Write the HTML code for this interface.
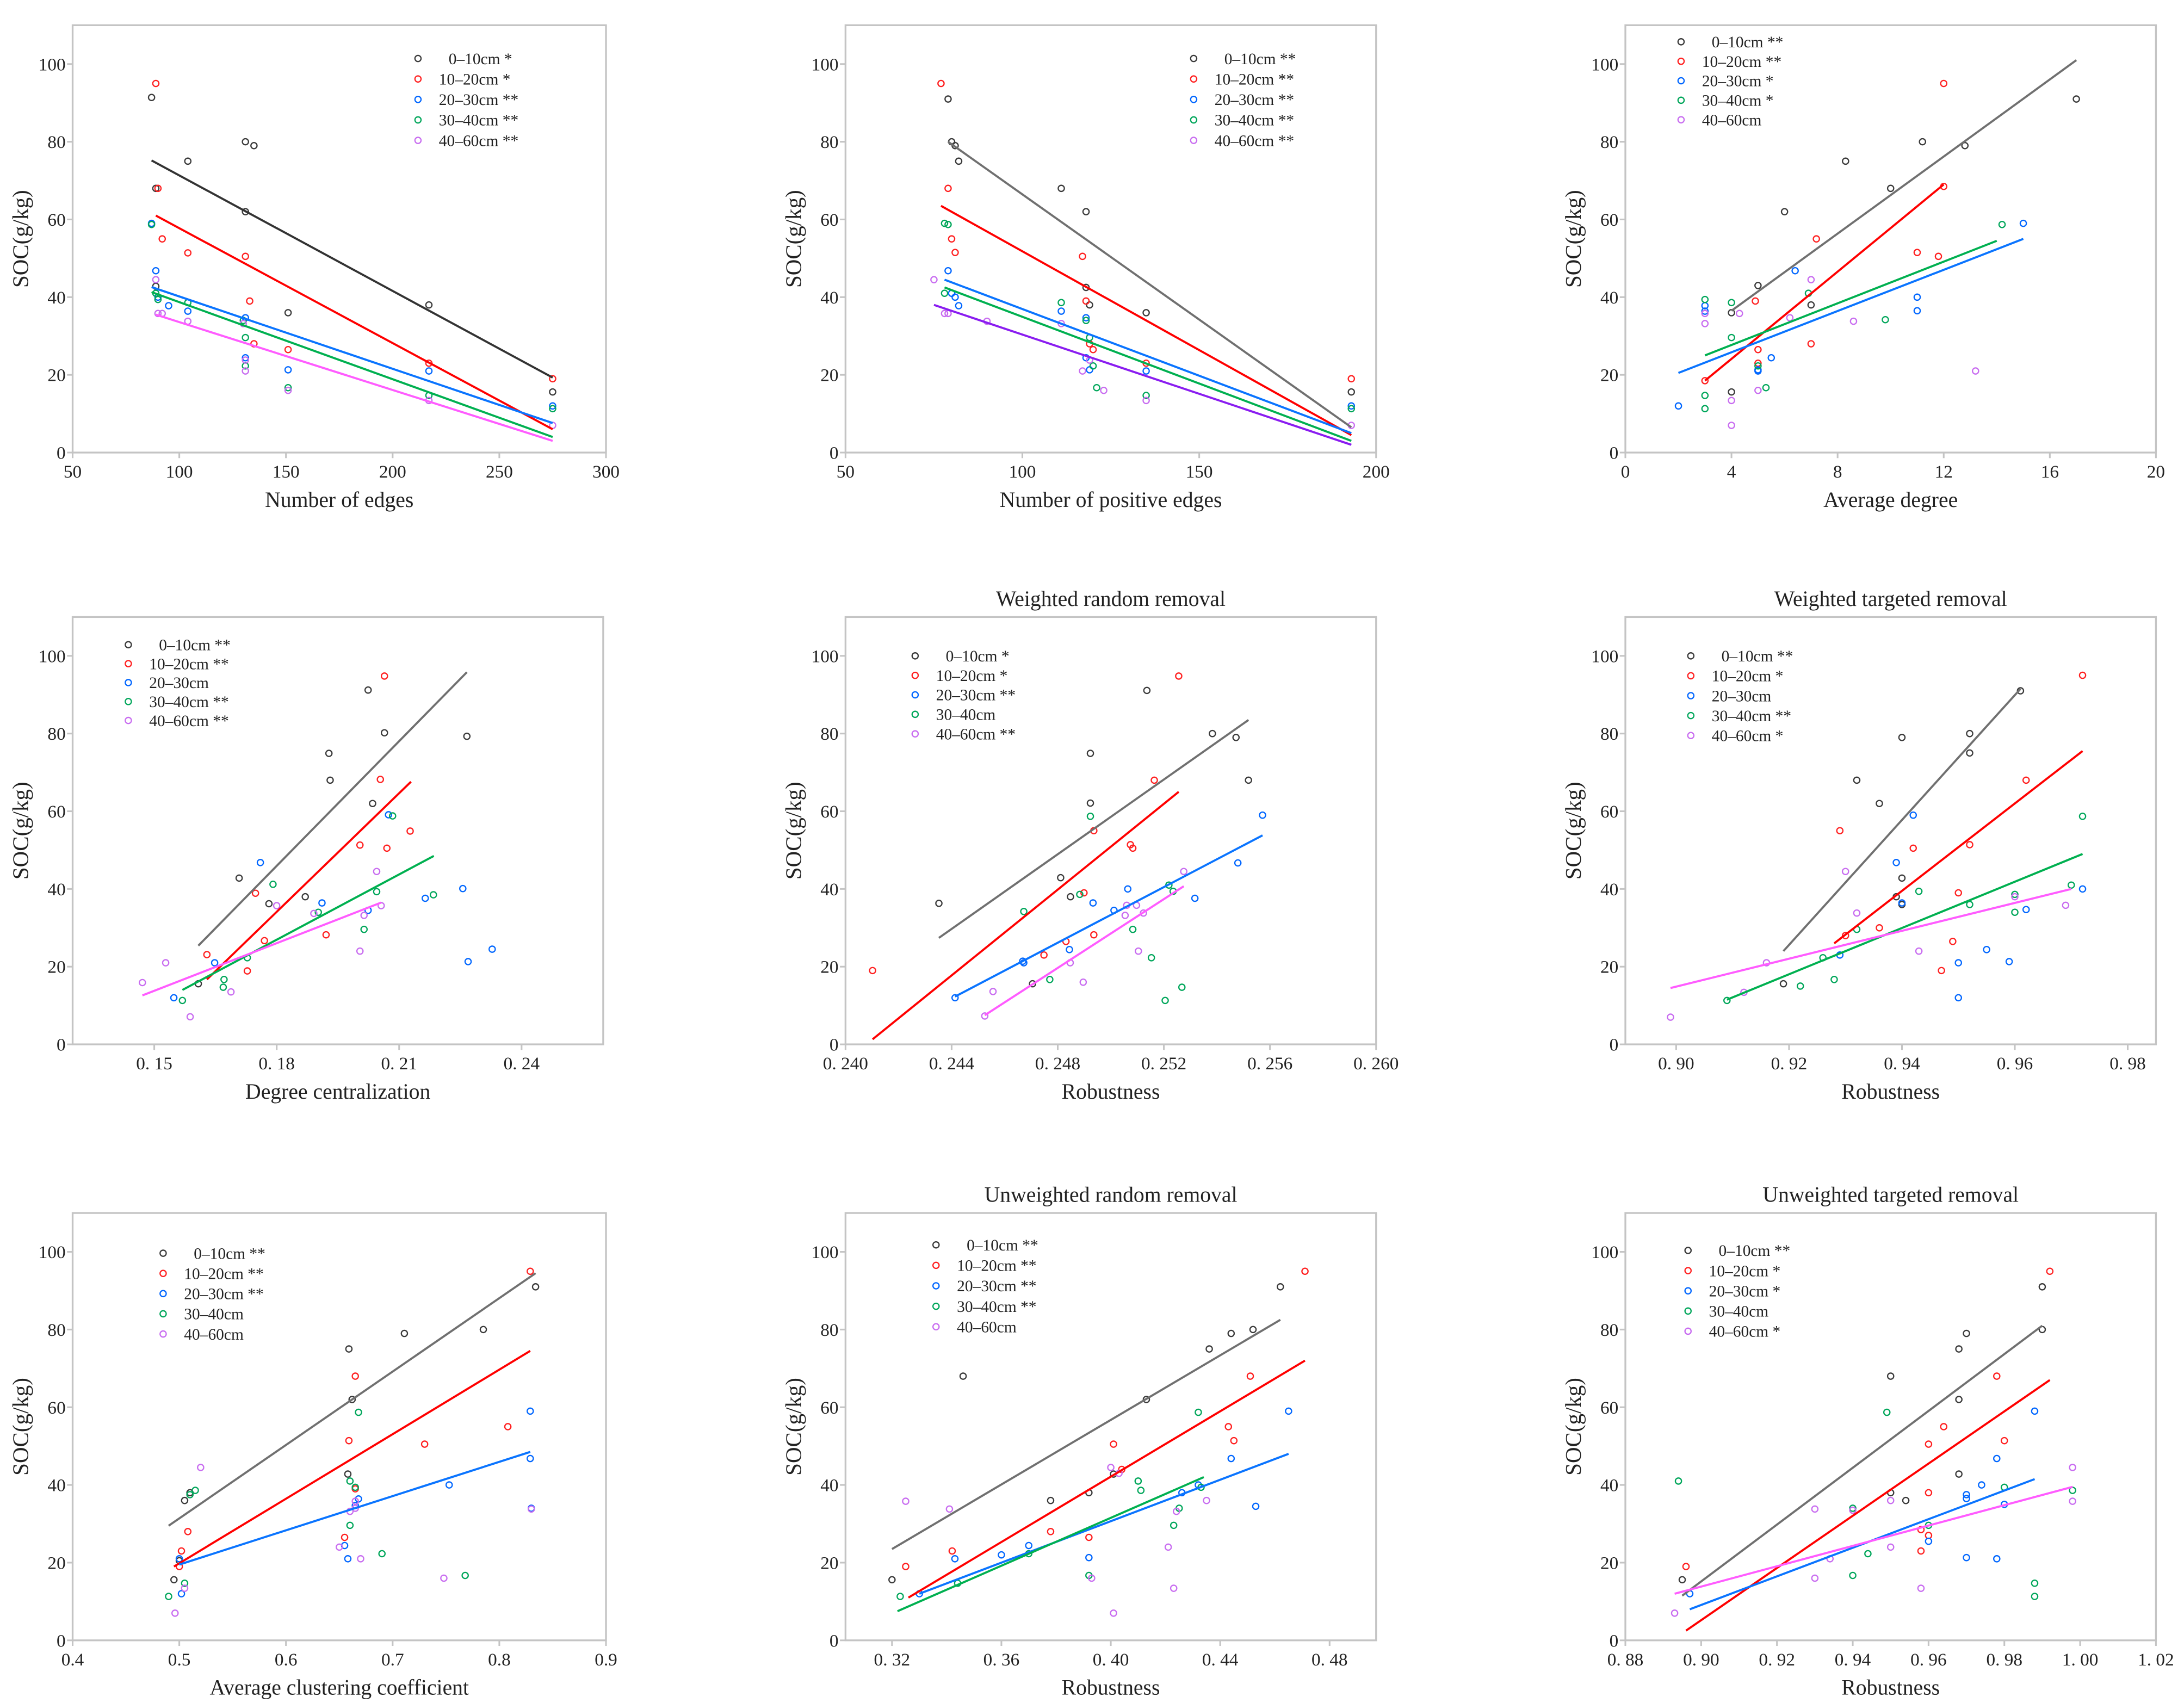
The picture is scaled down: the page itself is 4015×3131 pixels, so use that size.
<!DOCTYPE html>
<html><head><meta charset="utf-8"><style>
html,body{margin:0;padding:0;background:#fff;}
svg{display:block;}
text{font-family:"Liberation Serif",serif;fill:#222;}
</style></head><body>
<svg id="chart" xmlns="http://www.w3.org/2000/svg" width="4015" height="3131" viewBox="0 0 1568 1223"></svg>
<script>
// ===== Panel data =====
// P1: Number of edges
const p1_black_x=[87,89,104,131,135,131,151,217,275,89];
const p1_black_y=[91.4,68,75,80,79,62,36,38,15.6,42.8];
const p1_red_x=[89,90,92,104,131,133,135,151,217,275];
const p1_red_y=[95,68,55,51.4,50.5,39,28,26.5,23,19];
const p1_blue_x=[87,89,95,104,131,131,151,217,275,90];
const p1_blue_y=[59,46.8,37.8,36.4,34.7,24.4,21.3,21,12,40];
const p1_green_x=[87,89,90,104,130,131,131,151,217,275];
const p1_green_y=[58.7,41,39.4,38.6,34,29.6,22.3,16.7,14.7,11.3];
const p1_pink_x=[89,90,92,104,130,131,131,151,217,275];
const p1_pink_y=[44.5,35.8,35.8,33.8,33.2,23.8,21,16,13.4,7];
const p1_fit_black=[87,75.2,275,19.3];
const p1_fit_red=[89,61,275,6];
const p1_fit_blue=[87,42.6,275,7.6];
const p1_fit_green=[87,41.3,275,4];
const p1_fit_pink=[89,35.5,275,3];
// P2: Number of positive edges
const p2_black_x=[79,80,81,82,111,118,119,118,135,193];
const p2_black_y=[91,80,79,75,68,62,38,42.5,36,15.6];
const p2_red_x=[77,79,80,81,117,118,119,120,135,193];
const p2_red_y=[95,68,55,51.5,50.5,39,28,26.5,23,19];
const p2_blue_x=[79,81,82,111,118,118,119,135,193,80];
const p2_blue_y=[46.8,40,37.8,36.4,34.7,24.4,21.3,21,12,41];
const p2_green_x=[78,79,78,111,118,119,121,135,193,120];
const p2_green_y=[59,58.7,41,38.6,34,29.6,16.7,14.7,11.3,22.3];
const p2_pink_x=[75,78,79,90,111,119,123,135,193,117];
const p2_pink_y=[44.5,35.8,35.8,33.8,33.2,23.8,16,13.4,7,21];
const p2_fit_black=[79,80,193,6.5];
const p2_fit_red=[77,63.5,193,4.5];
const p2_fit_blue=[78,44.5,193,5];
const p2_fit_green=[78,42.5,193,3];
const p2_fit_pink=[75,38,193,2];
// P3: Average degree
const p3_black_x=[17,11.2,12.8,8.3,10,6,5,7,4,4];
const p3_black_y=[91,80,79,75,68,62,43,38,36,15.6];
const p3_red_x=[12,12,11.8,11,7.2,4.9,7,5,3,5];
const p3_red_y=[95,68.5,50.5,51.5,55,39,28,26.5,18.5,23];
const p3_blue_x=[15,6.4,11,3,3,11,5,5,5.5,2];
const p3_blue_y=[59,46.8,40,37.8,36.4,36.5,21.3,21,24.4,12];
const p3_green_x=[14.2,3,4,4,3,3,5.3,9.8,5,6.9];
const p3_green_y=[58.7,39.4,38.6,29.6,14.7,11.3,16.7,34.2,22.3,41];
const p3_pink_x=[7,3,3,4.3,8.6,6.2,4,4,13.2,5];
const p3_pink_y=[44.5,35.8,33.2,35.8,33.8,34.7,13.4,7,21,16];
const p3_fit_black=[4,36.5,17,101];
const p3_fit_red=[3,18.5,12,69];
const p3_fit_blue=[2,20.5,15,55];
const p3_fit_green=[3,25,14,54.5];
// P4: Degree centralization
const p4_black_x=[0.2024,0.2064,0.2266,0.1928,0.1931,0.2035,0.1708,0.1781,0.187,0.1608];
const p4_black_y=[91.2,80.2,79.3,74.9,68,62,42.8,36.2,38,15.6];
const p4_red_x=[0.2064,0.2054,0.2004,0.207,0.2127,0.1748,0.177,0.1921,0.1728,0.1629];
const p4_red_y=[94.8,68.2,51.3,50.5,54.9,38.9,26.7,28.2,18.9,23.1];
const p4_blue_x=[0.2074,0.176,0.2256,0.2164,0.1911,0.1648,0.2269,0.2328,0.1548,0.2024];
const p4_blue_y=[59.1,46.8,40.1,37.6,36.4,21,21.3,24.5,12,34.5];
const p4_green_x=[0.2084,0.1791,0.2045,0.2184,0.1902,0.2014,0.1671,0.1669,0.1569,0.1728];
const p4_green_y=[58.8,41.2,39.3,38.5,34,29.6,16.7,14.7,11.3,22.3];
const p4_pink_x=[0.2045,0.2056,0.18,0.1891,0.2014,0.2004,0.1688,0.1528,0.1471,0.1588];
const p4_pink_y=[44.5,35.7,35.7,33.7,33.2,24,13.5,21,15.9,7.1];
const p4_fit_black=[0.1608,25.4,0.2266,95.8];
const p4_fit_red=[0.1629,16.7,0.2129,67.6];
const p4_fit_green=[0.1569,14,0.2185,48.5];
const p4_fit_pink=[0.1471,12.6,0.2056,36.5];
// P5: Weighted random removal
const p5_black_x=[0.24352,0.24705,0.24811,0.24848,0.24923,0.24923,0.25136,0.25383,0.25472,0.25519];
const p5_black_y=[36.3,15.6,42.9,38,62.1,74.9,91.1,80,79,68];
const p5_red_x=[0.24102,0.24748,0.24831,0.24899,0.24936,0.24936,0.25074,0.25083,0.25164,0.25256];
const p5_red_y=[19,23,26.5,39,55,28.2,51.4,50.5,68,94.8];
const p5_blue_x=[0.24413,0.24668,0.24672,0.24844,0.24933,0.25012,0.25064,0.25317,0.25479,0.25572];
const p5_blue_y=[12,21.4,21,24.4,36.4,34.5,40,37.6,46.7,59];
const p5_green_x=[0.24672,0.2477,0.24883,0.24923,0.25083,0.25153,0.25205,0.25219,0.25235,0.25268];
const p5_green_y=[34.2,16.7,38.6,58.7,29.6,22.3,11.3,41,39.4,14.7];
const p5_pink_x=[0.24525,0.24556,0.24847,0.24896,0.25054,0.2506,0.25097,0.25104,0.25123,0.25275];
const p5_pink_y=[7.3,13.6,21,16,33.2,35.8,35.8,24,33.8,44.5];
const p5_fit_black=[0.24352,27.4,0.25519,83.5];
const p5_fit_red=[0.24102,1.3,0.25256,65];
const p5_fit_blue=[0.24413,12.3,0.25572,53.8];
const p5_fit_pink=[0.24525,7.5,0.25275,40.7];
// P6: Weighted targeted removal
const p6_black_x=[0.961,0.952,0.940,0.952,0.932,0.936,0.940,0.939,0.940,0.919];
const p6_black_y=[91,80,79,75,68,62,42.8,38,36,15.6];
const p6_red_x=[0.972,0.962,0.952,0.942,0.929,0.950,0.930,0.949,0.947,0.936];
const p6_red_y=[95,68,51.4,50.5,55,39,28,26.5,19,30];
const p6_blue_x=[0.942,0.939,0.972,0.962,0.955,0.959,0.950,0.950,0.929,0.940];
const p6_blue_y=[59,46.8,40,34.7,24.4,21.3,21,12,23,36.4];
const p6_green_x=[0.972,0.970,0.943,0.960,0.960,0.952,0.932,0.926,0.922,0.909,0.928];
const p6_green_y=[58.7,41,39.4,38.6,34,36,29.6,22.3,15,11.3,16.7];
const p6_pink_x=[0.930,0.969,0.932,0.943,0.916,0.912,0.899,0.960];
const p6_pink_y=[44.5,35.8,33.8,24,21,13.4,7,38];
const p6_fit_black=[0.919,24,0.961,91.5];
const p6_fit_red=[0.928,26,0.972,75.5];
const p6_fit_green=[0.909,11.5,0.972,49];
const p6_fit_pink=[0.899,14.5,0.970,40];
// P7: Average clustering coefficient
const p7_black_x=[0.834,0.785,0.711,0.659,0.662,0.658,0.505,0.51,0.495,0.50];
const p7_black_y=[91,80,79,75,62,42.8,36,38,15.6,20.5];
const p7_red_x=[0.829,0.665,0.659,0.73,0.808,0.508,0.50,0.502,0.665,0.655];
const p7_red_y=[95,68,51.4,50.5,55,28,19,23,39,26.5];
const p7_blue_x=[0.829,0.829,0.753,0.668,0.655,0.658,0.502,0.50,0.665,0.83];
const p7_blue_y=[59,46.8,40,36.4,24.4,21,12,21,34.7,34];
const p7_green_x=[0.668,0.66,0.665,0.515,0.51,0.66,0.69,0.768,0.505,0.49];
const p7_green_y=[58.7,41,39.4,38.6,37.5,29.6,22.3,16.7,14.7,11.3];
const p7_pink_x=[0.52,0.665,0.66,0.83,0.67,0.748,0.496,0.505,0.65,0.665];
const p7_pink_y=[44.5,35.8,33.2,33.8,21,16,7,13.4,24,34];
const p7_fit_black=[0.49,29.5,0.834,94.5];
const p7_fit_red=[0.495,19,0.829,74.5];
const p7_fit_blue=[0.50,19.5,0.829,48.5];
// P8: Unweighted random removal
const p8_black_x=[0.462,0.452,0.444,0.436,0.346,0.413,0.401,0.378,0.392,0.32];
const p8_black_y=[91,80,79,75,68,62,42.8,36,38,15.6];
const p8_red_x=[0.471,0.451,0.401,0.443,0.445,0.342,0.392,0.378,0.325,0.404];
const p8_red_y=[95,68,50.5,55,51.4,23,26.5,28,19,44];
const p8_blue_x=[0.465,0.444,0.432,0.426,0.37,0.36,0.392,0.453,0.33,0.343];
const p8_blue_y=[59,46.8,40,38,24.4,22,21.3,34.5,12,21];
const p8_green_x=[0.432,0.41,0.433,0.411,0.425,0.423,0.37,0.344,0.323,0.392];
const p8_green_y=[58.7,41,39.4,38.6,34,29.6,22.3,14.7,11.3,16.7];
const p8_pink_x=[0.325,0.341,0.40,0.424,0.421,0.393,0.423,0.401,0.435,0.403];
const p8_pink_y=[35.8,33.8,44.5,33.2,24,16,13.4,7,36,43];
const p8_fit_black=[0.32,23.5,0.462,82.5];
const p8_fit_red=[0.326,11,0.471,72];
const p8_fit_blue=[0.33,12,0.465,48];
const p8_fit_green=[0.322,7.5,0.434,42];
// P9: Unweighted targeted removal
const p9_black_x=[0.990,0.990,0.970,0.968,0.950,0.968,0.968,0.954,0.950,0.895];
const p9_black_y=[91,80,79,75,68,62,42.8,36,38,15.6];
const p9_red_x=[0.992,0.978,0.980,0.960,0.964,0.960,0.958,0.960,0.896,0.958];
const p9_red_y=[95,68,51.4,50.5,55,38,23,27,19,28.5];
const p9_blue_x=[0.988,0.978,0.974,0.970,0.980,0.970,0.978,0.960,0.897,0.970];
const p9_blue_y=[59,46.8,40,37.5,35,21.3,21,25.5,12,36.5];
const p9_green_x=[0.894,0.949,0.980,0.998,0.940,0.944,0.940,0.988,0.988,0.960];
const p9_green_y=[41,58.7,39.4,38.6,34,22.3,16.7,14.7,11.3,29.6];
const p9_pink_x=[0.998,0.998,0.930,0.940,0.950,0.930,0.958,0.893,0.934,0.950];
const p9_pink_y=[44.5,35.8,33.8,33.5,24,16,13.4,7,21,36];
const p9_fit_black=[0.895,11.5,0.990,81];
const p9_fit_red=[0.896,2.5,0.992,67];
const p9_fit_blue=[0.897,8,0.988,41.5];
const p9_fit_pink=[0.893,12,0.998,39.5];

// ticks & labels
const p1_xticks=[50,100,150,200,250,300];
const p2_xticks=[50,100,150,200];
const p3_xticks=[0,4,8,12,16,20];
const p4_xticks=[0.15,0.18,0.21,0.24];
const p5_xticks=[0.240,0.244,0.248,0.252,0.256,0.260];
const p6_xticks=[0.90,0.92,0.94,0.96,0.98];
const p7_xticks=[0.4,0.5,0.6,0.7,0.8,0.9];
const p8_xticks=[0.32,0.36,0.40,0.44,0.48];
const p9_xticks=[0.88,0.90,0.92,0.94,0.96,0.98,1.00,1.02];
const yticks=[0,20,40,60,80,100];
const p1_legend=["0–10cm *","10–20cm *","20–30cm **","30–40cm **","40–60cm **"];
const p2_legend=["0–10cm **","10–20cm **","20–30cm **","30–40cm **","40–60cm **"];
const p3_legend=["0–10cm   **","10–20cm **","20–30cm *","30–40cm *","40–60cm"];
const p4_legend=["0–10cm **","10–20cm **","20–30cm","30–40cm **","40–60cm **"];
const p5_legend=["0–10cm *","10–20cm *","20–30cm **","30–40cm","40–60cm **"];
const p6_legend=["0–10cm **","10–20cm *","20–30cm","30–40cm **","40–60cm *"];
const p7_legend=["0–10cm  **","10–20cm **","20–30cm **","30–40cm","40–60cm"];
const p8_legend=["0–10cm **","10–20cm **","20–30cm **","30–40cm **","40–60cm"];
const p9_legend=["0–10cm **","10–20cm *","20–30cm *","30–40cm","40–60cm *"];

const NS="http://www.w3.org/2000/svg";
const svg=document.getElementById('chart');
function mk(tag,attrs,parent){const e=document.createElementNS(NS,tag);for(const k in attrs)e.setAttribute(k,attrs[k]);(parent||svg).appendChild(e);return e;}
const PT={black:'#3a3a3a',red:'#ff2020',blue:'#0066ff',green:'#00a65a',pink:'#c86cf0'};
const series=['black','red','blue','green','pink'];

function panel(o){
  const g=mk('g',{});
  
  
  const sx=v=>o.x0+(v-o.d0)/(o.d1-o.d0)*(o.x1-o.x0);
  const sy=v=>o.yb-v*2.79;
  const top=sy(110);
  const frame=mk('rect',{x:o.x0,y:top,width:o.x1-o.x0,height:o.yb-top,fill:'none',stroke:'#c4c4c4','stroke-width':1.3},g);
  
  
  yticks.forEach(t=>{
    mk('line',{x1:o.x0-4,x2:o.x0,y1:sy(t),y2:sy(t),stroke:'#c4c4c4','stroke-width':1.2},g);
    const tx=mk('text',{x:o.x0-5,y:sy(t)+4.5,'text-anchor':'end','font-size':13},g);
    tx.textContent=t;
    
    
  });
  o.xt.forEach(t=>{
    const X=sx(t);
    mk('line',{x1:X,x2:X,y1:o.yb,y2:o.yb+4,stroke:'#c4c4c4','stroke-width':1.2},g);
    const tx=mk('text',{x:X,y:o.yb+18,'text-anchor':'middle','font-size':13},g);
    tx.textContent=o.fmt(t);
    
    
  });
  const xl=mk('text',{x:(o.x0+o.x1)/2,y:o.yb+39,'text-anchor':'middle','font-size':15.5},g);
  xl.textContent=o.xlabel;
  
  
  const yl=mk('text',{x:0,y:0,'text-anchor':'middle','font-size':16,transform:`translate(${o.x0-32},${sy(55)}) rotate(-90)`},g);
  yl.textContent='SOC(g/kg)';
  
  
  if(o.title){
    const t=mk('text',{x:(o.x0+o.x1)/2,y:top-8,'text-anchor':'middle','font-size':15.5},g);
    t.textContent=o.title;
    
    
  }
  series.forEach(s=>{
    const xs=o.data[s][0], ys=o.data[s][1];
    xs.forEach((v,i)=>{
      const c=mk('circle',{cx:sx(v),cy:sy(ys[i]),r:2.2,fill:'none',stroke:PT[s],'stroke-width':0.9},g);
      
      
    });
  });
  series.forEach(s=>{
    const f=o.fits[s]; if(!f) return;
    const l=mk('line',{x1:sx(f[0]),y1:sy(f[1]),x2:sx(f[2]),y2:sy(f[3]),stroke:o.lc[s],'stroke-width':1.5},g);
    
    
  });
  o.legend.forEach((lab,i)=>{
    const y=o.ly+i*o.ls;
    const c=mk('circle',{cx:o.lx,cy:y,r:2.2,fill:'none',stroke:PT[series[i]],'stroke-width':0.9},g);
    
    
    const t=mk('text',{x:o.lx+(i==0?22:15),y:y+4,'font-size':11.5,'xml:space':'preserve'},g);
    t.textContent=lab;
    
    
  });
}
const plain=t=>String(t);
const sp=d=>t=>t.toFixed(d).replace('.','. ');
const LC={black:'#707070',red:'#ff0000',blue:'#0a74ff',green:'#00b050',pink:'#ff5cff'};
const LC1=Object.assign({},LC,{black:'#333333'});
const LC2=Object.assign({},LC,{pink:'#8a1cf0'});
function D(p){const r={};series.forEach(s=>{r[s]=[eval(p+'_'+s+'_x'),eval(p+'_'+s+'_y')];});return r;}
function F(p){const r={};series.forEach(s=>{try{r[s]=eval(p+'_fit_'+s);}catch(e){r[s]=null;}});return r;}

panel({name:'panel-number-of-edges',x0:52,x1:435,d0:50,d1:300,yb:325,xt:p1_xticks,fmt:plain,xlabel:'Number of edges',data:D('p1'),fits:F('p1'),lc:LC1,legend:p1_legend,lx:300,ly:42,ls:14.7});
panel({name:'panel-positive-edges',x0:607,x1:988,d0:50,d1:200,yb:325,xt:p2_xticks,fmt:plain,xlabel:'Number of positive edges',data:D('p2'),fits:F('p2'),lc:LC2,legend:p2_legend,lx:857,ly:42,ls:14.7});
panel({name:'panel-average-degree',x0:1167,x1:1548,d0:0,d1:20,yb:325,xt:p3_xticks,fmt:plain,xlabel:'Average degree',data:D('p3'),fits:F('p3'),lc:LC,legend:p3_legend,lx:1207,ly:30,ls:14});
panel({name:'panel-degree-centralization',x0:52,x1:433,d0:0.13,d1:0.26,yb:750,xt:p4_xticks,fmt:sp(2),xlabel:'Degree centralization',data:D('p4'),fits:F('p4'),lc:LC,legend:p4_legend,lx:92,ly:463,ls:13.6});
panel({name:'panel-weighted-random',x0:607,x1:988,d0:0.240,d1:0.260,yb:750,xt:p5_xticks,fmt:sp(3),xlabel:'Robustness',title:'Weighted random removal',data:D('p5'),fits:F('p5'),lc:LC,legend:p5_legend,lx:657,ly:471,ls:14});
panel({name:'panel-weighted-targeted',x0:1167,x1:1548,d0:0.891,d1:0.985,yb:750,xt:p6_xticks,fmt:sp(2),xlabel:'Robustness',title:'Weighted targeted removal',data:D('p6'),fits:F('p6'),lc:LC,legend:p6_legend,lx:1214,ly:471,ls:14.3});
panel({name:'panel-clustering-coefficient',x0:52,x1:435,d0:0.4,d1:0.9,yb:1178,xt:p7_xticks,fmt:t=>t.toFixed(1),xlabel:'Average clustering coefficient',data:D('p7'),fits:F('p7'),lc:LC,legend:p7_legend,lx:117,ly:900,ls:14.5});
panel({name:'panel-unweighted-random',x0:607,x1:988,d0:0.303,d1:0.497,yb:1178,xt:p8_xticks,fmt:sp(2),xlabel:'Robustness',title:'Unweighted random removal',data:D('p8'),fits:F('p8'),lc:LC,legend:p8_legend,lx:672,ly:894,ls:14.7});
panel({name:'panel-unweighted-targeted',x0:1167,x1:1548,d0:0.88,d1:1.02,yb:1178,xt:p9_xticks,fmt:sp(2),xlabel:'Robustness',title:'Unweighted targeted removal',data:D('p9'),fits:F('p9'),lc:LC,legend:p9_legend,lx:1212,ly:898,ls:14.5});
</script>
</body></html>
